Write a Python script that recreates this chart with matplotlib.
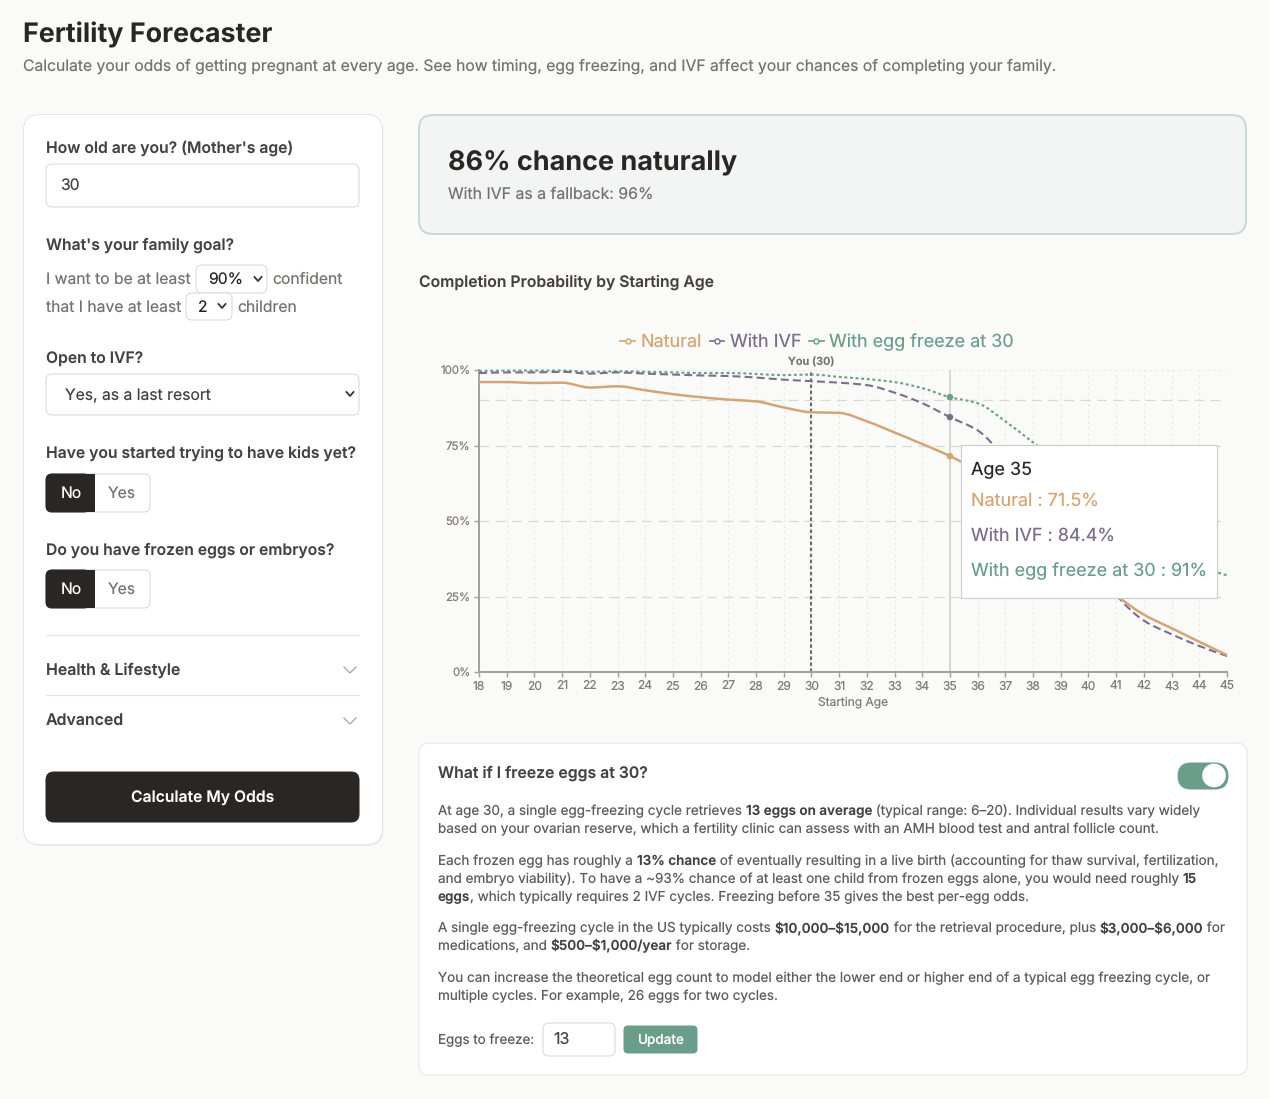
import matplotlib
matplotlib.use("Agg")
import matplotlib.pyplot as plt
from matplotlib.patches import FancyBboxPatch, Rectangle, PathPatch
from matplotlib.path import Path
from matplotlib.lines import Line2D

plt.rcParams['font.family'] = ['Inter', 'DejaVu Sans']
plt.rcParams['text.hinting'] = 'no_hinting'
plt.rcParams['text.hinting_factor'] = 1

W, H = 1269, 1099

ages = list(range(18, 46))
natural = [96, 96, 95.7, 95.8, 94.2, 94.6, 93.3, 92, 91, 90.2, 89.6, 87.6, 86, 85.8,
           83, 79.3, 75.5, 71.5, 66.5, 60, 52, 44, 35, 25.5, 19, 14.5, 10, 5.6]
with_ivf = [99, 99.2, 99.2, 99.4, 98.8, 99.2, 98.8, 98.5, 98.2, 98, 97.5, 96.8, 96.3, 95.8,
            95, 92.5, 89, 84.4, 80, 71, 62, 52, 39, 25.5, 17, 12.5, 8.6, 5.3]
with_freeze = [99.7, 99.8, 99.8, 99.8, 99.4, 99.6, 99.4, 99.2, 99, 99, 98.7, 98.3, 98.5, 97.7,
               97, 96, 94, 91, 89, 83, 76, 69, 60, 52, 45, 39, 35, 32]
y_ticks = [0, 25, 50, 75, 100]
y_labels = ['0%', '25%', '50%', '75%', '100%']
goal_line = 90
your_age = 30
hover_age = 35

BG = '#FAFAF8'
DARK = '#2A2624'
TEXT = '#454140'
MUTED = '#76726F'
BODY = '#5F5B58'
BORDER = '#D9D7D4'
C_NAT = '#D4A574'
C_IVF = '#7B6D8D'
C_EGG = '#6B9E8A'


def px(n):
    return n * 0.72


fig = plt.figure(figsize=(W / 100, H / 100), dpi=100, facecolor=BG)

# page furniture is drawn in pixel coordinates
ui = fig.add_axes([0, 0, 1, 1], zorder=0)
ui.set_xlim(0, W)
ui.set_ylim(H, 0)
ui.axis('off')
top = fig.add_axes([0, 0, 1, 1], zorder=3)
top.set_xlim(0, W)
top.set_ylim(H, 0)
top.axis('off')
top.patch.set_alpha(0)


def box(x0, y0, x1, y1, r=6, fc='white', ec=BORDER, lw=1.0, ax=ui, z=2):
    p = FancyBboxPatch((x0, y0), x1 - x0, y1 - y0, boxstyle=f'round,pad=0,rounding_size={r}',
                       fc=fc, ec=ec, lw=lw * 0.72, zorder=z)
    ax.add_patch(p)
    return p


def txt(x, y, s, size=15, color=TEXT, weight='normal', ha='left', ax=ui):
    return ax.text(x, y, s, fontsize=px(size), color=color, fontweight=weight, ha=ha, va='baseline',
                   zorder=5, parse_math=False)


def chevron(x, y, w=3.5, h=2, color='#333333', lw=1.8):
    ui.plot([x - w, x, x + w], [y - h, y + h, y - h], color=color, lw=lw * 0.72, zorder=5)


def runs(x, y, parts, size=13.5):
    # mixed regular and bold text on one line, each part starts where the last ended
    r = fig.canvas.get_renderer()
    for s, bold in parts:
        t = txt(x, y, s, size=size, color=TEXT if bold else BODY, weight=600 if bold else 'normal')
        x += t.get_window_extent(r).width


def monotone_path(xs, ys):
    # same smoothing the original line chart uses between the read values
    n = len(xs)
    d = [(ys[k + 1] - ys[k]) / (xs[k + 1] - xs[k]) for k in range(n - 1)]
    m = [d[0]] + [0.0] * (n - 2) + [d[-1]]
    for k in range(1, n - 1):
        if d[k - 1] * d[k] > 0:
            m[k] = 2 * d[k - 1] * d[k] / (d[k - 1] + d[k])
    verts = [(xs[0], ys[0])]
    codes = [Path.MOVETO]
    for k in range(n - 1):
        h = (xs[k + 1] - xs[k]) / 3
        verts += [(xs[k] + h, ys[k] + m[k] * h), (xs[k + 1] - h, ys[k + 1] - m[k + 1] * h), (xs[k + 1], ys[k + 1])]
        codes += [Path.CURVE4] * 3
    return Path(verts, codes)


txt(23, 42, 'Fertility Forecaster', 26.9, DARK, 700)
txt(23, 71, 'Calculate your odds of getting pregnant at every age. See how timing, egg freezing, and IVF affect your chances of completing your family.', 15.68, MUTED)

# left card
box(24, 116, 383.5, 846, r=16, fc='#EDEDEA', ec='none', z=1)
box(23.5, 114.5, 382.5, 844.5, r=16, fc='white', ec='#E6E5E2')
txt(46, 153, "How old are you? (Mother's age)", 15.7, TEXT, 600)
box(46, 164, 359, 207)
txt(60, 190, '30', 15.7, TEXT)
txt(46, 250, "What's your family goal?", 15.7, TEXT, 600)
txt(46, 284, 'I want to be at least', 15.7, MUTED)
box(196, 265, 267, 293)
txt(208, 285, '90%', 15.7, DARK)
chevron(258, 279)
txt(272, 284, 'confident', 15.7, MUTED)
txt(46, 312, 'that I have at least', 15.7, MUTED)
box(186, 293, 232, 320)
txt(198, 312, '2', 15.7, DARK)
chevron(222, 306)
txt(237, 312, 'children', 15.7, MUTED)
txt(46, 363.6, 'Open to IVF?', 15.7, TEXT, 600)
box(46, 374, 359, 415)
txt(65, 400, 'Yes, as a last resort', 15.7, TEXT)
chevron(350, 394)
for label_y, label, y0 in [(458, 'Have you started trying to have kids yet?', 474),
                           (555, 'Do you have frozen eggs or embryos?', 570)]:
    txt(46, label_y, label, 15.7, TEXT, 600)
    box(46, y0, 150, y0 + 38)
    box(46, y0, 90, y0 + 38, fc=DARK, ec=DARK, z=3)
    ui.add_patch(Rectangle((80, y0), 15, 38, fc=DARK, ec='none', zorder=3))
    txt(71, y0 + 24, 'No', 15.7, 'white', ha='center')
    txt(122, y0 + 24, 'Yes', 15.7, MUTED, ha='center')
for y in [635, 695]:
    ui.plot([46, 359], [y, y], color='#E4E3E0', lw=0.8, zorder=3)
txt(46, 675, 'Health & Lifestyle', 15.9, TEXT, 600)
txt(46, 725, 'Advanced', 15.9, TEXT, 600)
chevron(350, 670, w=6, h=3, color='#A09D9A', lw=1.2)
chevron(350, 721, w=6, h=3, color='#A09D9A', lw=1.2)
box(46, 772, 359, 822, r=8, fc=DARK, ec=DARK)
txt(202.5, 802.6, 'Calculate My Odds', 15.7, 'white', 600, ha='center')

# result card
box(419, 115, 1246, 234, r=14, fc='#F2F5F3', ec='#C9DAD2', lw=2)
txt(448, 170, '86% chance naturally', 27, DARK, 700)
txt(448, 199, 'With IVF as a fallback: 96%', 15.85, MUTED)
txt(419, 287, 'Completion Probability by Starting Age', 15.75, TEXT, 600)

# chart
ax = fig.add_axes([479 / W, 1 - 672 / H, (1227 - 479) / W, (672 - 370) / H], zorder=1)
ax.patch.set_alpha(0)
ax.set_xlim(18, 45)
ax.set_ylim(0, 100)
ax.set_xticks(ages)
ax.set_yticks(y_ticks)
ax.set_yticklabels(y_labels)
ax.tick_params(axis='both', labelcolor='#807C79', color='#A0A0A0', length=px(5), width=1, pad=2.5)
ax.tick_params(axis='x', labelsize=px(12))
ax.tick_params(axis='y', labelsize=px(11.4))
for s in ['top', 'right']:
    ax.spines[s].set_visible(False)
for s in ['left', 'bottom']:
    ax.spines[s].set_color('#A0A0A0')
    ax.spines[s].set_linewidth(1.4)
ax.xaxis.grid(True, color='#E8E8E6', lw=0.8, linestyle=(0, (2.3, 2.9)))
ax.yaxis.grid(True, color='#DAD9D6', lw=0.9, linestyle=(0, (8, 5)))
top_grid = ax.yaxis.get_gridlines()[-1]
top_grid.set_color('#E8E8E6')
top_grid.set_linewidth(0.8)
top_grid.set_linestyle((0, (2.3, 2.9)))
ax.set_axisbelow(True)
ax.axhline(goal_line, color='#DAD9D6', lw=0.9, linestyle=(0, (8, 5)), zorder=1)
ax.axvline(hover_age, color='#CFCECB', lw=1.1, zorder=1)
ax.axvline(your_age, color='#6E6A67', lw=1.5, linestyle=(0, (1.7, 1.2)), zorder=2)
ax.set_xlabel('Starting Age', fontsize=px(12), color='#807C79', labelpad=3)
ax.annotate(f'You ({your_age})', (your_age, 100), xytext=(0, 3.5), textcoords='offset points', ha='center',
            fontsize=px(11), color=MUTED, fontweight=600, annotation_clip=False)

line_styles = [(with_freeze, C_EGG, 1.5, (0, (1.4, 1.3)), 3), (with_ivf, C_IVF, 1.5, (0, (3.8, 2)), 4),
               (natural, C_NAT, 1.8, 'solid', 5)]
for series, c, lw, ls, z in line_styles:
    ax.add_patch(PathPatch(monotone_path(ages, series), fc='none', ec=c, lw=lw, linestyle=ls, zorder=z,
                           clip_on=False))
i = ages.index(hover_age)
for series, c in [(natural, C_NAT), (with_ivf, C_IVF), (with_freeze, C_EGG)]:
    ax.scatter([hover_age], [series[i]], s=22, color=c, edgecolor='none', zorder=6)

handles = [Line2D([], [], color=c, lw=1.2, marker='o', ms=3.6, mfc=BG, mew=1) for c in [C_NAT, C_IVF, C_EGG]]
fig.legend(handles, ['Natural', 'With IVF', 'With egg freeze at 30'], ncol=3, frameon=False,
           loc='center', bbox_to_anchor=(817 / W, 1 - 342 / H), fontsize=px(18),
           labelcolor=[C_NAT, C_IVF, C_EGG], handlelength=0.8, handletextpad=0.3, columnspacing=0.45,
           borderpad=0)

# hover tooltip sits over the lines
top.add_patch(Rectangle((960.5, 444.5), 256, 153, fc='white', ec='#CCCCCC', lw=0.8, zorder=4))
txt(971, 475, f'Age {hover_age}', 18, DARK, ax=top)
txt(971, 506, f'Natural : {natural[i]}%', 18, C_NAT, ax=top)
txt(971, 541, f'With IVF : {with_ivf[i]}%', 18, C_IVF, ax=top)
txt(971, 576, f'With egg freeze at 30 : {with_freeze[i]}%', 18, C_EGG, ax=top)

# egg freezing card
box(419, 743, 1247, 1075, r=10, fc='white', ec='#E6E5E2')
txt(438, 778, 'What if I freeze eggs at 30?', 15.8, TEXT, 600)
box(1178, 763, 1228, 789, r=13, fc=C_EGG, ec=C_EGG)
ui.scatter([1214], [775.5], s=290, color='white', zorder=6, edgecolor='none')

runs(438, 815, [('At age 30, a single egg-freezing cycle retrieves ', 0), ('13 eggs on average', 1),
                (' (typical range: 6–20). Individual results vary widely', 0)])
runs(438, 833, [('based on your ovarian reserve, which a fertility clinic can assess with an AMH blood test and antral follicle count.', 0)])
runs(438, 865, [('Each frozen egg has roughly a ', 0), ('13% chance', 1),
                (' of eventually resulting in a live birth (accounting for thaw survival, fertilization,', 0)])
runs(438, 883, [('and embryo viability). To have a ~93% chance of at least one child from frozen eggs alone, you would need roughly ', 0),
                ('15', 1)])
runs(438, 901, [('eggs', 1), (', which typically requires 2 IVF cycles. Freezing before 35 gives the best per-egg odds.', 0)])
runs(438, 932, [('A single egg-freezing cycle in the US typically costs ', 0), ('$10,000–$15,000', 1),
                (' for the retrieval procedure, plus ', 0), ('$3,000–$6,000', 1), (' for', 0)])
runs(438, 950, [('medications, and ', 0), ('$500–$1,000/year', 1), (' for storage.', 0)])
runs(438, 982, [('You can increase the theoretical egg count to model either the lower end or higher end of a typical egg freezing cycle, or', 0)])
runs(438, 1000, [('multiple cycles. For example, 26 eggs for two cycles.', 0)])

txt(438, 1044, 'Eggs to freeze:', 13.4, BODY)
box(543, 1023, 615, 1056)
txt(553, 1044, '13', 16, TEXT)
box(624, 1026, 697, 1053, r=4, fc=C_EGG, ec=C_EGG)
txt(660.5, 1043.5, 'Update', 13.5, 'white', 500, ha='center')

fig.savefig('out.png', dpi=100, facecolor=BG)
